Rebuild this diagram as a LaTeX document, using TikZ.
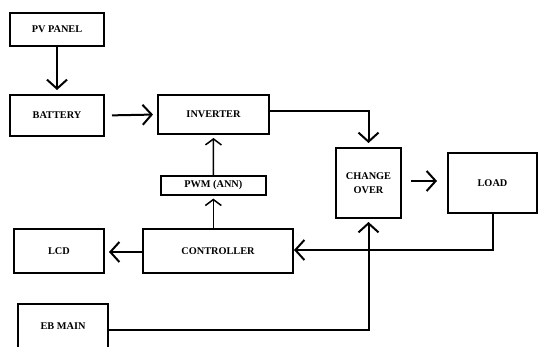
\documentclass[tikz,border=0pt]{standalone}
\usepackage{fontspec}
\setmainfont{Liberation Serif}
\usetikzlibrary{arrows.meta}
\begin{document}
\begin{tikzpicture}[x=1pt,y=-1pt,
  blk/.style={draw,line width=2pt,rectangle,inner sep=0pt,font=\bfseries\fontsize{10.3}{12}\selectfont,align=center},
  arr/.style={line width=2pt,-{Straight Barb[length=9pt,width=20pt,line width=2pt]}},
  sarr/.style={line width=1.5pt,-{Straight Barb[length=6pt,width=16pt,line width=1.5pt]}},
  wire/.style={line width=2pt}]
\useasboundingbox (0,0) rectangle (538,347);
\clip (0,0) rectangle (538,347);
\node[blk,minimum width=94,minimum height=33,anchor=north west] (pv) at (9,12) {PV PANEL};
\node[blk,minimum width=94,minimum height=41,anchor=north west] (bat) at (9,94) {BATTERY};
\node[blk,minimum width=111,minimum height=39,anchor=north west] (inv) at (157,94) {INVERTER};
\node[blk,minimum width=65,minimum height=70,anchor=north west] (chg) at (335,147) {CHANGE\\[2pt]OVER};
\node[blk,minimum width=89,minimum height=60,anchor=north west] (load) at (447,152) {LOAD};
\node[blk,line width=1.6pt,minimum width=105,minimum height=19,anchor=north west] (pwm) at (160,175) {PWM (ANN)};
\node[blk,minimum width=150,minimum height=44,anchor=north west] (ctrl) at (142,228) {CONTROLLER};
\node[blk,minimum width=90,minimum height=44,anchor=north west] (lcd) at (13,228) {LCD};
\node[blk,minimum width=90,minimum height=52,anchor=north west,text height=7pt,text depth=8pt] (eb) at (17,303) {EB MAIN};
\draw[arr] (pv.south) -- ([yshift=4pt]bat.north);
\draw[arr,shorten <=7pt,shorten >=4pt] (bat.east) -- (inv.west);
\draw[arr,shorten >=4pt] ([yshift=3pt]inv.east) -- ([yshift=3pt]inv.east -| chg.north) -- (chg.north);
\draw[arr,shorten <=9pt,shorten >=10pt] ([yshift=2pt]chg.east) -- ([yshift=2pt]chg.east -| load.west);
\draw[wire,-{Straight Barb[length=9pt,width=20pt,line width=2pt]}] (load.south) -- ([yshift=1pt]load.south |- ctrl.east) -- ([yshift=1pt]ctrl.east);
\draw[arr,shorten >=4pt] ([yshift=-1pt]ctrl.west) -- ([yshift=-1pt]lcd.east);
\draw[sarr,shorten >=3pt] (ctrl.north -| pwm.south) -- (pwm.south);
\draw[sarr,shorten >=3pt] (pwm.north) -- (inv.south);
\draw[arr,shorten >=3pt] (eb.east) -- (eb.east -| chg.south) -- (chg.south);
\end{tikzpicture}
\end{document}
